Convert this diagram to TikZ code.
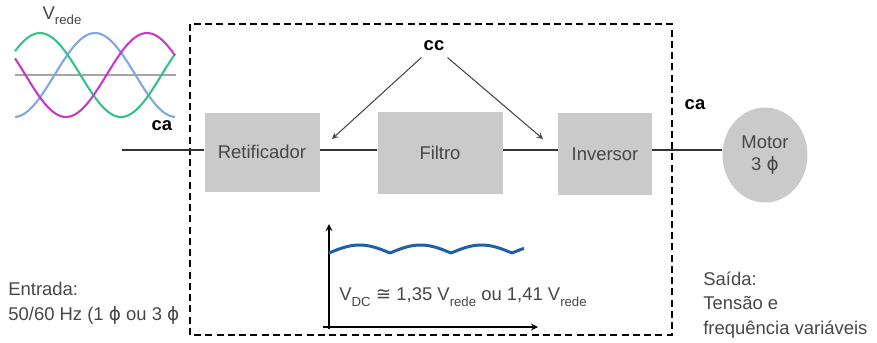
\documentclass[tikz,border=0pt]{standalone}
\usepackage{fontspec}
\setmainfont{Liberation Sans}
\newfontfamily\gfont{DejaVu Sans}
\usepackage{tikz}
\usetikzlibrary{positioning,arrows,shapes}
\definecolor{caixa}{HTML}{CACACA}
\definecolor{texto}{HTML}{474747}
\definecolor{fio}{HTML}{333333}
\definecolor{faseA}{HTML}{35C28A}
\definecolor{faseB}{HTML}{80A8E0}
\definecolor{faseC}{HTML}{C43CC8}
\definecolor{ripple}{HTML}{1F5FA6}
\newcommand{\fase}{{\gfont ϕ}}
\newcommand{\aprox}{{\gfont ≅}}
\newcommand{\lowsub}[1]{\raisebox{-0.55ex}{\fontsize{7.5}{8}\selectfont #1}}

\begin{document}
\begin{tikzpicture}[x=0.2mm,y=-0.2mm,>=stealth,
  bloco/.style={fill=caixa, text=texto, minimum height=15.8mm, inner sep=0pt},
  rotulo/.style={font=\fontsize{10.5}{14}\selectfont\bfseries, text=black},
  legenda/.style={font=\fontsize{10.5}{14}\selectfont, text=texto, align=left, inner sep=0pt},
  linha/.style={draw=fio, line width=1.1pt},
  onda/.style={line width=1.2pt, smooth}]
\useasboundingbox (0,0) rectangle (877,342);
\fontsize{10.5}{14}\selectfont

% conversor
\draw[line width=1.1pt, dash pattern=on 1.4mm off 0.85mm] (190,24) rectangle (672,335);

\node[bloco, minimum width=23mm]   (ret) at (262,152) {Retificador};
\node[bloco, minimum width=25mm, minimum height=16.4mm] (fil) at (440,153) {Filtro};
\node[bloco, minimum width=18.8mm, minimum height=16.4mm] (inv) at (605,154) {Inversor};
\node[ellipse, fill=caixa, text=texto, align=center, inner sep=0pt,
      minimum width=17mm, minimum height=19mm] (mot) at (765,155) {Motor\\[-1pt]3 \fase};

\coordinate (ent) at (122,150);
\draw[linha] (ent) -- (ent -| ret.west);
\draw[linha] (ret.east |- ent) -- (fil.west |- ent);
\draw[linha] (fil.east |- ent) -- (inv.west |- ent);
\draw[linha] (inv.east |- ent) -- (mot.west |- ent);

\node[rotulo] (cc)  at (434,46)  {cc};
\node[rotulo] (caE) at (162,126) {ca};
\node[rotulo] (caS) at (695,105) {ca};

\coordinate (pr) at (332,139);
\coordinate (pi) at (543,139);
\draw[->, draw=texto, line width=0.6pt] (cc) -- (pr);
\draw[->, draw=texto, line width=0.6pt] (cc) -- (pi);

% tensao da rede
\coordinate (ra) at (15,75);
\coordinate (rb) at (176,75);
\draw[draw=gray!70, line width=0.8pt] (ra) -- (rb);
\draw[onda, faseB] plot[domain=15:175, samples=60] (\x, {75-42*cos(2.222*(\x-95))});
\draw[onda, faseA] plot[domain=15:175, samples=60] (\x, {75-42*cos(2.222*(\x-40))});
\draw[onda, faseC] plot[domain=15:175, samples=60] (\x, {75-42*cos(2.222*(\x-147))});
\node[text=texto] (vr) at (62,16) {V\lowsub{rede}};

% tensao cc
\coordinate (oy) at (329,329);
\coordinate (ty) at (329,224);
\coordinate (ox) at (323,327);
\coordinate (tx) at (538,327);
\draw[->, draw=black, line width=0.8pt] (oy) -- (ty);
\draw[->, draw=black, line width=0.8pt] (ox) -- (tx);
\draw[ripple, line width=1.7pt] plot[domain=329:524, samples=150] (\x, {253-8*abs(sin(2.9508*(\x-329)))});
\node[text=texto, inner sep=0pt] (vdc) at (463,297)
  {V\lowsub{DC} \aprox{} 1,35 V\lowsub{rede} ou 1,41 V\lowsub{rede}};

% entrada e saida
\node[legenda, anchor=west] (entr) at (8,303) {Entrada:\\50/60 Hz (1 \fase{} ou 3 \fase};
\node[legenda, anchor=west] (said) at (703,305) {Saída:\\Tensão e\\frequência variáveis};

\end{tikzpicture}
\end{document}
